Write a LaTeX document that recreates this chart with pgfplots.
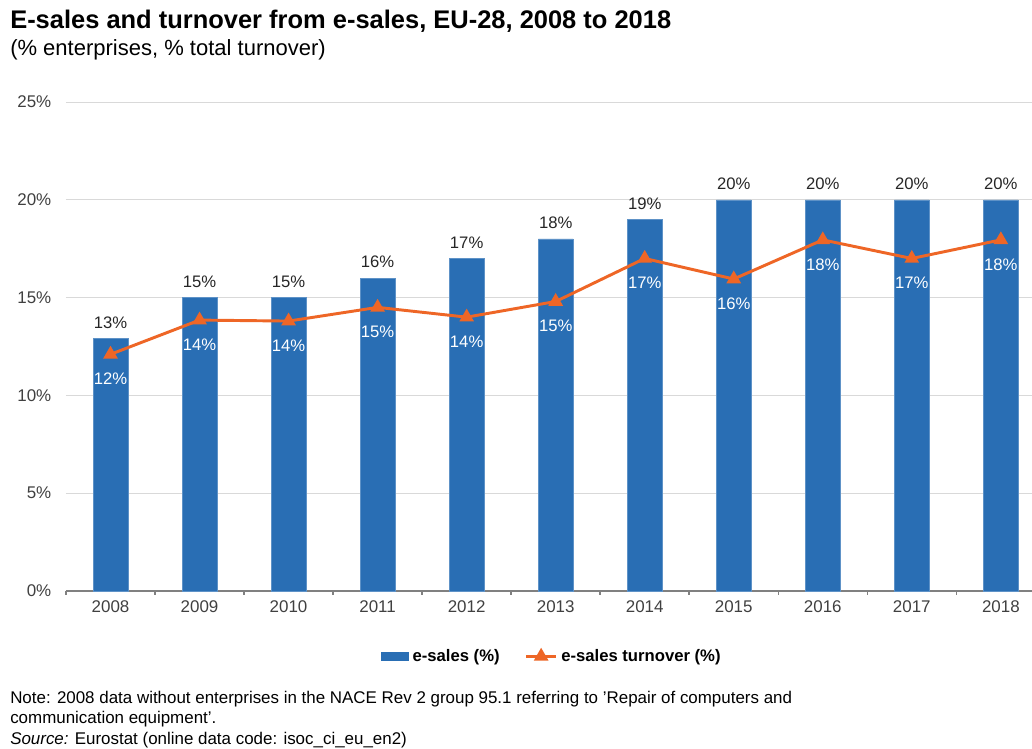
\documentclass[border=0pt]{standalone}
\usepackage{fontspec}
\setmainfont{Liberation Sans}
\usepackage{pgfplots}
\pgfplotsset{compat=1.18}

\definecolor{barblue}{RGB}{41,110,180}
\definecolor{lineorange}{RGB}{238,102,38}
\definecolor{gridgray}{RGB}{217,217,217}
\definecolor{axisgray}{RGB}{128,128,128}
\definecolor{ticktext}{RGB}{64,64,64}

\pgfplotsset{
  barleg/.style={legend image code/.code={\fill[barblue] (0pt,-3pt) rectangle (20pt,3pt);}},
  lineleg/.style={legend image code/.code={%
    \draw[##1, mark repeat=2, mark phase=2] plot coordinates {(0pt,0pt) (11pt,0pt) (22pt,0pt)};}},
}

\begin{document}
\begin{tikzpicture}
\begin{axis}[
  name=main,
  scale only axis,
  width=724.5pt,
  height=366.75pt,
  xmin=-0.5, xmax=10.35,
  ymin=0, ymax=25,
  axis lines*=left,
  y axis line style={draw=none},
  x axis line style={draw=axisgray, line width=1.1pt},
  xtick={0,...,10},
  xticklabels={2008,2009,2010,2011,2012,2013,2014,2015,2016,2017,2018},
  minor xtick={-0.5,0.5,...,9.5},
  major tick length=0pt,
  minor tick length=3pt,
  tick align=outside,
  minor x tick style={draw=axisgray, line width=1.1pt},
  ytick={0,5,...,25},
  yticklabel={\pgfmathprintnumber{\tick}\%},
  yticklabel style={xshift=-7.5pt},
  xticklabel style={yshift=-4pt},
  tick label style={font=\fontsize{12.7}{15}\selectfont, text=ticktext},
  /pgf/number format/assume math mode=true,
  ymajorgrids,
  grid style={gridgray, line width=0.6pt},
  clip=false,
  legend columns=2,
  legend style={at={(0.5,0)}, anchor=center, yshift=-49pt, xshift=3pt, draw=none,
    font=\bfseries\fontsize{12.5}{15}\selectfont,
    nodes={inner xsep=3pt},
    /tikz/every even column/.append style={column sep=16pt}},
  legend cell align=left,
]
\addplot[ybar, bar width=26pt, fill=barblue, draw=barblue!75!white, line width=0.4pt,
  barleg,
  point meta=explicit symbolic,
  nodes near coords={\pgfplotspointmeta\%},
  every node near coord/.append style={font=\fontsize{12.5}{15}\selectfont, text=black!85, anchor=south, yshift=4pt}]
coordinates {
  (0,12.9) [13]
  (1,15.0) [15]
  (2,15.0) [15]
  (3,16.0) [16]
  (4,17.0) [17]
  (5,18.0) [18]
  (6,19.0) [19]
  (7,20.0) [20]
  (8,20.0) [20]
  (9,20.0) [20]
  (10,20.0) [20]
};
\addlegendentry{e-sales (\%)}
\addplot[lineorange, line width=2.2pt, mark=triangle*, mark size=4.2pt,
  mark options={solid},
  lineleg,
  point meta=explicit symbolic,
  nodes near coords={\pgfplotspointmeta\%},
  every node near coord/.append style={font=\fontsize{12.5}{15}\selectfont, text=white, anchor=north, yshift=-9.5pt}]
coordinates {
  (0,12.1) [12]
  (1,13.85) [14]
  (2,13.8) [14]
  (3,14.5) [15]
  (4,14.0) [14]
  (5,14.8) [15]
  (6,17.0) [17]
  (7,15.95) [16]
  (8,17.95) [18]
  (9,17.0) [17]
  (10,17.95) [18]
};
\addlegendentry{e-sales turnover (\%)}
\coordinate (O) at (rel axis cs:0,0);
\end{axis}
\pgfresetboundingbox
\begin{scope}[shift={(O)}, x=0.75pt, y=-0.75pt, shift={(-66,-591)}]
  \path (0,0) rectangle (1032,749);
  \node[anchor=base west, inner sep=0pt, font=\bfseries\fontsize{19.1}{22}\selectfont] at (10,29)
    {E-sales and turnover from e-sales, EU-28, 2008 to 2018};
  \node[anchor=base west, inner sep=0pt, font=\fontsize{16.5}{19}\selectfont] at (10,56)
    {(\% enterprises, \% total turnover)};
  \node[anchor=base west, inner sep=0pt, font=\fontsize{12.7}{15}\selectfont] at (10,704)
    {Note: 2008 data without enterprises in the NACE Rev 2 group 95.1 referring to 'Repair of computers and};
  \node[anchor=base west, inner sep=0pt, font=\fontsize{12.7}{15}\selectfont] at (10,724)
    {communication equipment'.};
  \node[anchor=base west, inner sep=0pt, font=\fontsize{12.7}{15}\selectfont] at (10,745)
    {\textit{Source:} Eurostat (online data code: isoc\_ci\_eu\_en2)};
\end{scope}
\end{tikzpicture}
\end{document}
